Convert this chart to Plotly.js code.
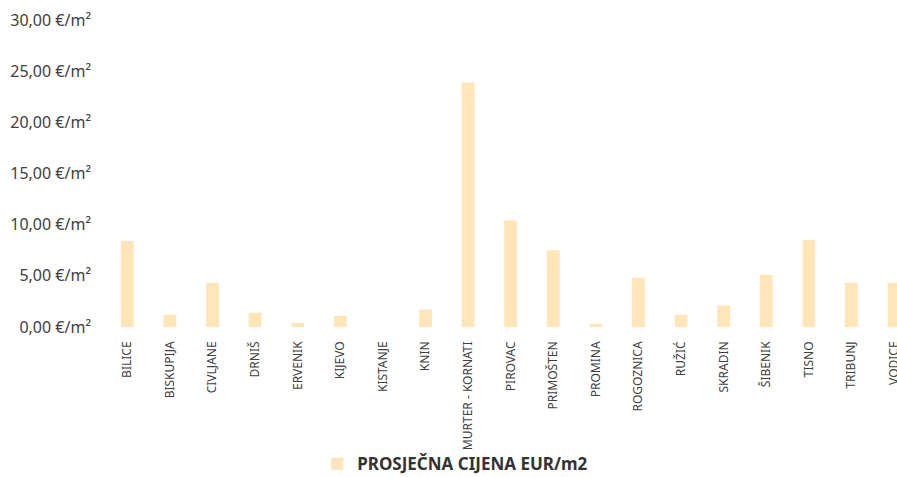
<!DOCTYPE html>
<html>
<head>
<meta charset="utf-8">
<script src="https://cdn.plot.ly/plotly-3.0.1.min.js"></script>
<style>html,body{margin:0;padding:0;background:#fff;}#chart{width:897px;height:477px;}</style>
</head>
<body>
<div id="chart"></div>
<script>
const categories = ["BILICE","BISKUPIJA","CIVLJANE","DRNIŠ","ERVENIK","KIJEVO","KISTANJE","KNIN","MURTER - KORNATI","PIROVAC","PRIMOŠTEN","PROMINA","ROGOZNICA","RUŽIĆ","SKRADIN","ŠIBENIK","TISNO","TRIBUNJ","VODICE"];
const prices = [8.4, 1.2, 4.3, 1.4, 0.4, 1.1, 0.0, 1.7, 23.9, 10.4, 7.5, 0.3, 4.8, 1.2, 2.1, 5.1, 8.5, 4.3, 4.3];
const seriesName = "PROSJEČNA CIJENA EUR/m2";
const yTickVals = [0, 5, 10, 15, 20, 25, 30];
const yTickText = ["0,00 €/m²","5,00 €/m²","10,00 €/m²","15,00 €/m²","20,00 €/m²","25,00 €/m²","30,00 €/m²"];

const trace = {
  type: 'bar',
  x: categories,
  y: prices,
  name: seriesName,
  width: 0.3,
  marker: {color: '#FFE5B8'},
  showlegend: true,
  hoverinfo: 'x+y'
};

const layout = {
  width: 897, height: 477,
  margin: {l: 106, r: 0, t: 20, b: 150, autoexpand: false},
  paper_bgcolor: '#fff', plot_bgcolor: '#fff',
  font: {family: 'Noto Sans, sans-serif', color: '#404040'},
  xaxis: {
    type: 'category',
    range: [-0.5, 18.07],
    tickangle: -90,
    tickfont: {size: 12, color: '#404040', family: 'Noto Sans, sans-serif'},
    showgrid: false, zeroline: false, showline: false, ticks: '',
    ticklabelstandoff: 11,
    automargin: false
  },
  yaxis: {
    range: [0, 30],
    tickvals: yTickVals,
    ticktext: yTickText,
    tickfont: {size: 16, color: '#404040', family: 'Noto Sans, sans-serif'},
    showgrid: false, zeroline: false, showline: false, ticks: '',
    ticklabelstandoff: 14,
    automargin: false
  },
  showlegend: true,
  legend: {
    orientation: 'h',
    bgcolor: 'rgba(0,0,0,0)',
    x: 0.267, xanchor: 'left',
    y: -0.447, yanchor: 'middle',
    font: {size: 17, color: '#333333', family: 'Noto Sans, sans-serif', weight: 'bold'},
    itemwidth: 30
  }
};

Plotly.newPlot('chart', [trace], layout, {staticPlot: true, displayModeBar: false});
</script>
</body>
</html>
